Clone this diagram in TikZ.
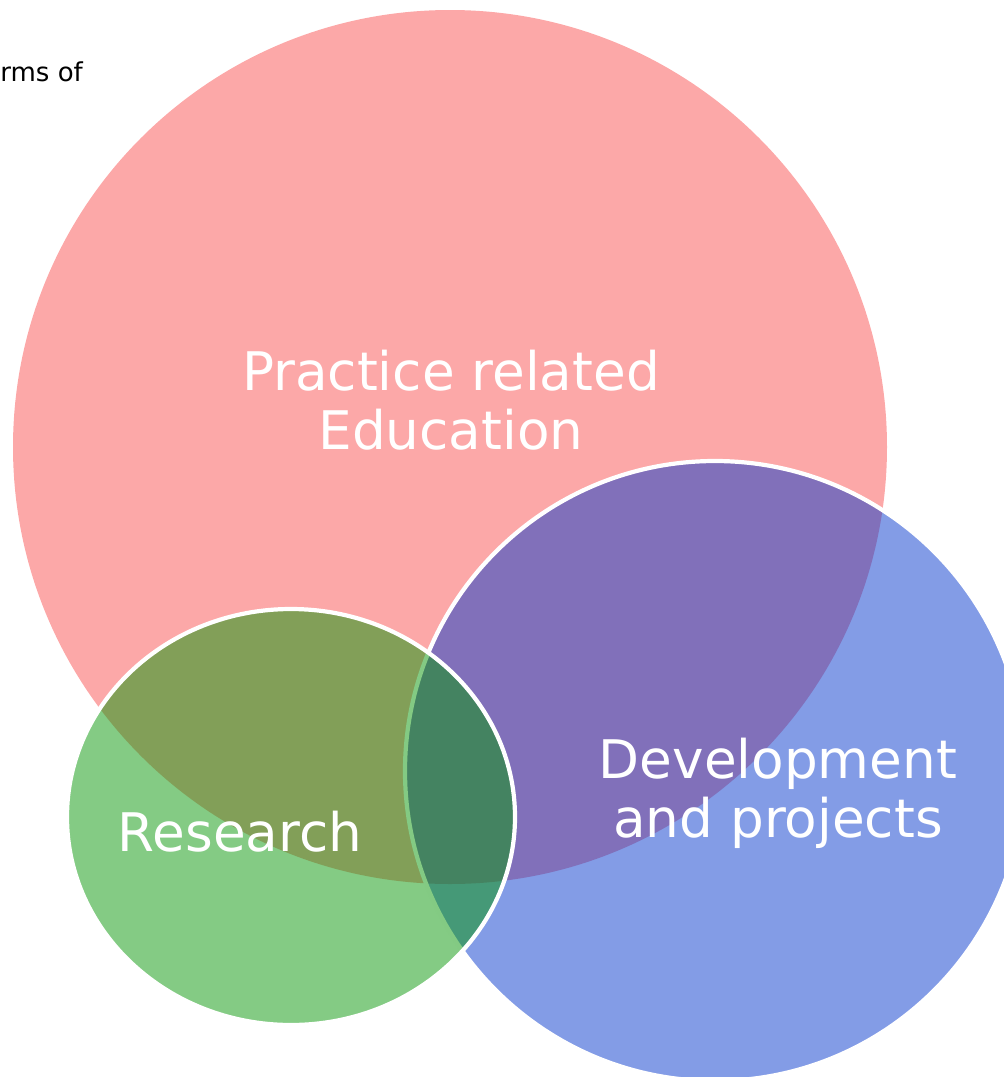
\documentclass[tikz,border=0pt]{standalone}
\usepackage{fontspec}
\setmainfont{DejaVu Sans}
\definecolor{edupink}{HTML}{FCA8A8}
\definecolor{devblue}{HTML}{0739CD}
\definecolor{resgreen}{HTML}{099709}
\begin{document}
\begin{tikzpicture}[x=0.5pt, y=-0.5pt,
    bubble/.style={draw=white, line width=2.1pt, fill opacity=0.5},
    label/.style={text=white, align=center, font=\fontsize{26.6}{29.5}\selectfont}]
  \useasboundingbox (0,0) rectangle (1004,1077);
  % the three circles
  \fill [edupink] (450,447) circle [radius=437];
  \filldraw [bubble, fill=devblue] (715,771) circle [radius=310];
  \filldraw [bubble, fill=resgreen] (291,817) ellipse [x radius=224, y radius=208];
  % labels
  \node [label] (edu) at (451,400) {Practice related\\Education};
  \node [label] (res) at (240,832) {Research};
  \node [label] (dev) at (778,793) {Development\\and projects};
  \node [anchor=base west, inner sep=0pt, font=\fontsize{13}{15}\selectfont] (terms) at (0,81) {rms of};
\end{tikzpicture}
\end{document}
